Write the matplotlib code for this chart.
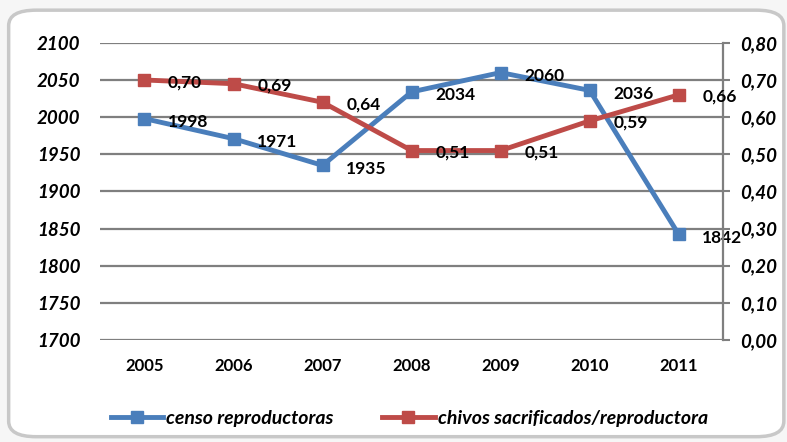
import matplotlib.pyplot as plt
from matplotlib.patches import FancyBboxPatch

years = ['2005', '2006', '2007', '2008', '2009', '2010', '2011']
censo = [1998, 1971, 1935, 2034, 2060, 2036, 1842]
chivos = [0.70, 0.69, 0.64, 0.51, 0.51, 0.59, 0.66]

left_ticks = [1700, 1750, 1800, 1850, 1900, 1950, 2000, 2050, 2100]
right_ticks = [0.0, 0.1, 0.2, 0.3, 0.4, 0.5, 0.6, 0.7, 0.8]

blue = '#4a7ebb'
red = '#be4b48'
font = 'Lato'

fig = plt.figure(figsize=(7.87, 4.42), dpi=100)
fig.patch.set_facecolor('#f6f6f6')

# rounded frame around the chart
frame = FancyBboxPatch((0.011, 0.012), 0.985, 0.965, boxstyle='round,pad=0,rounding_size=0.035',
                       transform=fig.transFigure, facecolor='white', edgecolor='#c8c8c8',
                       lw=2.5, zorder=-5)
fig.patches.append(frame)

ax = fig.add_axes([0.127, 0.231, 0.792, 0.672])
ax.patch.set_alpha(0)
x = list(range(len(years)))

ax.set_ylim(1700, 2100)
ax.set_xlim(-0.5, len(years) - 0.5)
ax.set_yticks(left_ticks)
ax.set_yticklabels([str(v) for v in left_ticks], fontfamily=font, fontweight='bold',
                   fontstyle='italic', fontsize=13.5)
ax.set_xticks(x)
ax.set_xticklabels(years, fontfamily=font, fontweight='bold', fontsize=12)
ax.tick_params(axis='y', length=0, pad=14)
ax.tick_params(axis='x', length=0, pad=13)
ax.grid(axis='y', color='#7f7f7f', lw=1.6)
ax.set_axisbelow(True)
for s in ['left', 'top', 'bottom', 'right']:
    ax.spines[s].set_visible(False)

ax2 = ax.twinx()
ax2.set_ylim(0, 0.8)
ax2.set_yticks(right_ticks)
ax2.set_yticklabels([f'{v:.2f}'.replace('.', ',') for v in right_ticks], fontfamily=font,
                    fontweight='bold', fontstyle='italic', fontsize=13.5)
ax2.tick_params(axis='y', length=5, width=1.5, color='#7f7f7f', pad=7)
for s in ['left', 'top', 'bottom']:
    ax2.spines[s].set_visible(False)
ax2.spines['right'].set_color('#7f7f7f')
ax2.spines['right'].set_linewidth(1.6)

l1, = ax.plot(x, censo, color=blue, lw=3.5, marker='s', ms=9, zorder=3,
              label='censo reproductoras')
l2, = ax2.plot(x, chivos, color=red, lw=3.5, marker='s', ms=9, zorder=3,
               label='chivos sacrificados/reproductora')

for xi, v in zip(x, censo):
    ax.annotate(str(v), (xi, v), xytext=(17, -2.5), textcoords='offset points', ha='left',
                va='center', fontfamily=font, fontweight='bold', fontsize=12.5, zorder=5)
for xi, v in zip(x, chivos):
    ax2.annotate(f'{v:.2f}'.replace('.', ','), (xi, v), xytext=(17, -1.5),
                 textcoords='offset points', ha='left', va='center', fontfamily=font,
                 fontweight='bold', fontsize=12.5, zorder=5)

fig.legend(handles=[l1, l2], loc='center', bbox_to_anchor=(0.52, 0.054), ncol=2, frameon=False,
           prop={'family': font, 'weight': 'bold', 'style': 'italic', 'size': 14},
           handlelength=2.7, handletextpad=0.15, columnspacing=2.5)

fig.savefig('out.png', dpi=100)
